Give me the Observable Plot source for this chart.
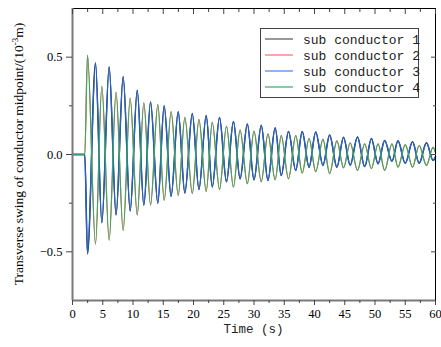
<!DOCTYPE html>
<html>
<head>
<meta charset="utf-8">
<script src="https://cdn.jsdelivr.net/npm/d3@7"></script>
<script src="https://cdn.jsdelivr.net/npm/@observablehq/plot@0.6"></script>
<style>
  html, body { margin: 0; padding: 0; background: #fff; }
  #chart { position: relative; width: 441px; height: 347px; }
  #chart svg g[aria-label$="tick label"] text { font-family: "Liberation Serif", serif; font-size: 12.5px; }
</style>
</head>
<body>
<div id="chart"></div>
<script>
// Extremum times (s) (flat zero until ~2 s, then damped swing)
const times = [0, 2.03, 2.48, 3.8, 4.85, 6.06, 7.2, 8.37, 9.53, 10.7, 11.79, 12.9, 14.1, 15.15, 16.3, 17.47, 18.57, 19.8, 20.9, 22.1, 23.1, 24.3, 25.45, 26.6, 27.7, 28.9, 30.0, 31.2, 32.3, 33.5, 34.5, 35.7, 36.9, 37.97, 39.1, 40.2, 41.4, 42.5, 43.7, 44.8, 45.9, 47.1, 48.3, 49.4, 50.5, 51.6, 52.8, 53.8, 55.0, 56.2, 57.3, 58.5, 59.6, 60];

// Sub conductors 1 and 3 overlap; sub conductors 2 and 4 overlap (values in 10^-3 m)
const sub1 = [0, 0, -0.51, 0.47, -0.35, 0.45, -0.31, 0.40, -0.29, 0.33, -0.26, 0.27, -0.25, 0.25, -0.215, 0.22, -0.198, 0.21, -0.18, 0.20, -0.167, 0.19, -0.14, 0.17, -0.125, 0.157, -0.13, 0.15, -0.133, 0.137, -0.108, 0.118, -0.082, 0.118, -0.065, 0.115, -0.056, 0.10, -0.065, 0.088, -0.055, 0.09, -0.062, 0.082, -0.048, 0.072, -0.035, 0.07, -0.045, 0.065, -0.045, 0.06, -0.03, -0.012];
const sub3 = [0, 0, -0.51, 0.47, -0.35, 0.45, -0.31, 0.40, -0.29, 0.33, -0.26, 0.27, -0.25, 0.25, -0.215, 0.22, -0.198, 0.21, -0.18, 0.20, -0.167, 0.19, -0.14, 0.17, -0.125, 0.157, -0.13, 0.15, -0.133, 0.137, -0.108, 0.118, -0.082, 0.118, -0.065, 0.115, -0.056, 0.10, -0.065, 0.088, -0.055, 0.09, -0.062, 0.082, -0.048, 0.072, -0.035, 0.07, -0.045, 0.065, -0.045, 0.06, -0.03, -0.012];
const sub2 = [0, 0, 0.51, -0.46, 0.35, -0.44, 0.32, -0.39, 0.29, -0.31, 0.265, -0.26, 0.256, -0.236, 0.22, -0.21, 0.19, -0.20, 0.18, -0.19, 0.166, -0.18, 0.145, -0.167, 0.126, -0.15, 0.12, -0.14, 0.106, -0.13, 0.097, -0.125, 0.097, -0.095, 0.082, -0.088, 0.078, -0.098, 0.07, -0.068, 0.06, -0.082, 0.055, -0.073, 0.055, -0.082, 0.055, -0.065, 0.05, -0.065, 0.046, -0.056, 0.037, 0.01];
const sub4 = [0, 0, 0.51, -0.46, 0.35, -0.44, 0.32, -0.39, 0.29, -0.31, 0.265, -0.26, 0.256, -0.236, 0.22, -0.21, 0.19, -0.20, 0.18, -0.19, 0.166, -0.18, 0.145, -0.167, 0.126, -0.15, 0.12, -0.14, 0.106, -0.13, 0.097, -0.125, 0.097, -0.095, 0.082, -0.088, 0.078, -0.098, 0.07, -0.068, 0.06, -0.082, 0.055, -0.073, 0.055, -0.082, 0.055, -0.065, 0.05, -0.065, 0.046, -0.056, 0.037, 0.01];

const seriesNames = ["sub conductor 1", "sub conductor 2", "sub conductor 3", "sub conductor 4"];
const seriesColors = ["#2a2a2a", "#ff4a4a", "#1f66dc", "#2fae5e"];
const seriesValues = [sub1, sub2, sub3, sub4];

const xMajorTicks = [0, 5, 10, 15, 20, 25, 30, 35, 40, 45, 50, 55, 60];
const xMinorTicks = [2.5, 7.5, 12.5, 17.5, 22.5, 27.5, 32.5, 37.5, 42.5, 47.5, 52.5, 57.5];
const yMajorTicks = [-0.5, 0, 0.5];
const yMinorTicks = [-0.25, 0.25];

const xLabel = "Time (s)";
const yLabelMain = "Transverse swing of conductor midpoint/(10";
const yLabelSup = "-3";
const yLabelEnd = "m)";

const series = seriesNames.map((name, k) => ({
  name, color: seriesColors[k],
  rows: times.map((t, i) => ({t, v: seriesValues[k][i]}))
}));

const W = 441, H = 347;
const mL = 72, mR = 6, mT = 8, mB = 47;
const axisGray = "#7a7a7a";
const SERIF = "Liberation Serif";
const MONO = "Liberation Mono";

const lineMark = (s, opts = {}) => Plot.line(s.rows, {x: "t", y: "v", stroke: s.color, strokeWidth: 1.2, curve: "monotone-x", ...opts});

const plot = Plot.plot({
  width: W, height: H,
  marginLeft: mL, marginRight: mR, marginTop: mT, marginBottom: mB,
  style: {fontFamily: SERIF, fontSize: "12px", color: "#000", background: "#fff", overflow: "visible"},
  x: {domain: [0, 60]},
  y: {domain: [-0.75, 0.75]},
  marks: [
    lineMark(series[0], {strokeWidth: 1.5}),
    lineMark(series[1], {strokeWidth: 1.1}),
    lineMark(series[2], {strokeWidth: 1.3}),
    lineMark(series[3], {strokeWidth: 1.3, strokeOpacity: 0.9}),
    // frame
    Plot.ruleX([60], {stroke: "#000", strokeWidth: 1}),
    Plot.ruleY([0.75], {stroke: "#000", strokeWidth: 1}),
    Plot.ruleX([0], {stroke: axisGray, strokeWidth: 2}),
    Plot.ruleY([-0.75], {stroke: axisGray, strokeWidth: 2}),
    // bottom axis
    Plot.axisX({ticks: xMajorTicks, tickSize: 5, tickPadding: 4, tickFormat: d => String(d), stroke: "#444", label: null, fontFamily: SERIF, fontSize: 12.5}),
    Plot.axisX({ticks: xMinorTicks, tickSize: 3, text: null, stroke: "#444", label: null}),
    // top axis (inward ticks)
    Plot.axisX({anchor: "top", ticks: xMajorTicks, tickSize: -5, text: null, stroke: "#444", label: null}),
    Plot.axisX({anchor: "top", ticks: xMinorTicks, tickSize: -3, text: null, stroke: "#444", label: null}),
    // left axis
    Plot.axisY({ticks: yMajorTicks, tickSize: 6, tickPadding: 4, tickFormat: d3.format(".1f"), stroke: "#444", label: null, fontFamily: SERIF, fontSize: 12.5}),
    Plot.axisY({ticks: yMinorTicks, tickSize: 3, text: null, stroke: "#444", label: null}),
    // right axis (inward ticks)
    Plot.axisY({anchor: "right", ticks: yMajorTicks, tickSize: -5, text: null, stroke: "#444", label: null}),
    Plot.axisY({anchor: "right", ticks: yMinorTicks, tickSize: -3, text: null, stroke: "#444", label: null})
  ]
});

const svg = d3.select(plot);

// x axis title
svg.append("text")
  .attr("x", (mL + W - mR) / 2).attr("y", 333)
  .attr("text-anchor", "middle")
  .style("font-family", MONO)
  .style("font-weight", "normal")
  .attr("font-size", 12.5)
  .attr("fill", "#222")
  .text(xLabel);

// y axis title with superscript
const yt = svg.append("text")
  .attr("transform", `translate(23,${(mT + H - mB) / 2}) rotate(-90)`)
  .attr("text-anchor", "middle")
  .style("font-family", SERIF)
  .attr("font-size", 13.5)
  .attr("fill", "#000");
yt.append("tspan").text(yLabelMain);
yt.append("tspan").attr("baseline-shift", "super").attr("font-size", 9).text(yLabelSup);
yt.append("tspan").text(yLabelEnd);

// legend
const lg = svg.append("g").attr("transform", "translate(260,28)");
lg.append("rect").attr("x", 0.5).attr("y", 0.5).attr("width", 158).attr("height", 69)
  .attr("fill", "#fff").attr("stroke", "#444").attr("stroke-width", 1);
const legendColors = ["#555555", "#ff6b6b", "#3d86f0", "#3aa86a"];
seriesNames.forEach((name, i) => {
  const cy = 11 + i * 16;
  lg.append("line").attr("x1", 5).attr("x2", 33).attr("y1", cy).attr("y2", cy)
    .attr("stroke", legendColors[i]).attr("stroke-width", 1.2);
  lg.append("text").attr("x", 43).attr("y", cy).attr("dy", "0.35em")
    .attr("text-anchor", "start")
    .style("font-family", MONO).attr("font-size", 13)
    .attr("fill", "#222").text(name);
});

document.getElementById("chart").append(plot);
</script>
</body>
</html>
